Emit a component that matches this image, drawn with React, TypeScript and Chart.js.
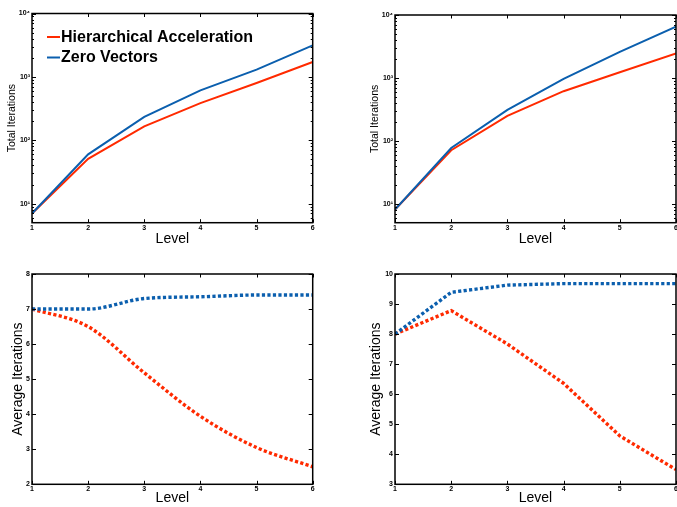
import { useEffect, useRef } from "react";
import { Chart, registerables } from "chart.js";

Chart.register(...registerables);

// ---------- data ----------
const levels = [1, 2, 3, 4, 5, 6];
const seriesLabels = ["Hierarchical Acceleration", "Zero Vectors"];

// top-left: total iterations (log)
const totalHierA = [7, 51, 166, 386, 800, 1720];
const totalZeroA = [7, 60, 233, 612, 1300, 3150];
// top-right: total iterations (log)
const totalHierB = [8.1, 71, 250, 615, 1230, 2450];
const totalZeroB = [8.1, 77, 310, 965, 2600, 6500];
// bottom-left: average iterations
const avgHierA = [7.0, 6.5, 5.18, 3.94, 3.05, 2.5];
const avgZeroA = [7.0, 7.0, 7.3, 7.35, 7.4, 7.4];
// bottom-right: average iterations
const avgHierB = [8.0, 8.78, 7.67, 6.36, 4.61, 3.49];
const avgZeroB = [8.0, 9.39, 9.63, 9.68, 9.68, 9.68];

const logTickValues = [10, 100, 1000, 10000];
const supers: Record<number, string> = { 1: "\u00B9", 2: "\u00B2", 3: "\u00B3", 4: "\u2074" };

const RED = "#ff2a00";
const BLUE = "#0b5fae";
const FONT = "'Liberation Sans', Arial, Helvetica, sans-serif";

// ---------- plugins ----------
const framePlugin = {
  id: "frame",
  afterDatasetsDraw(chart: any, _args: any, opts: any) {
    const { ctx, chartArea: a, scales } = chart;
    const xs = scales.x;
    const ys = scales.y;
    ctx.save();
    ctx.strokeStyle = "#000";
    ctx.lineWidth = 1;
    ctx.beginPath();
    for (const t of xs.ticks) {
      const px = Math.round(xs.getPixelForValue(t.value)) + 0.5;
      ctx.moveTo(px, a.bottom);
      ctx.lineTo(px, a.bottom - 3.5);
      ctx.moveTo(px, a.top);
      ctx.lineTo(px, a.top + 3.5);
    }
    for (const t of ys.ticks) {
      const py = Math.round(ys.getPixelForValue(t.value)) + 0.5;
      ctx.moveTo(a.left, py);
      ctx.lineTo(a.left + 4, py);
      ctx.moveTo(a.right, py);
      ctx.lineTo(a.right - 4, py);
    }
    if (opts && opts.log) {
      for (let d = 1; d <= 1000; d *= 10) {
        for (let m = 2; m <= 9; m++) {
          const v = m * d;
          if (v <= ys.min || v >= ys.max) continue;
          const py = Math.round(ys.getPixelForValue(v)) + 0.5;
          ctx.moveTo(a.left, py);
          ctx.lineTo(a.left + 2, py);
          ctx.moveTo(a.right, py);
          ctx.lineTo(a.right - 2, py);
        }
      }
    }
    ctx.stroke();
    ctx.lineWidth = 1.5;
    ctx.strokeRect(a.left, a.top, a.right - a.left, a.bottom - a.top);
    ctx.restore();
  },
};

const lineLegendPlugin = {
  id: "lineLegend",
  afterDraw(chart: any, _args: any, opts: any) {
    if (!opts || !opts.show) return;
    const { ctx, chartArea: a } = chart;
    const ds = chart.data.datasets;
    ctx.save();
    ctx.font = `bold 16px ${FONT}`;
    ctx.textBaseline = "middle";
    ctx.textAlign = "left";
    ds.forEach((d: any, i: number) => {
      const yLine = a.top + 23.5 + i * 20.5;
      ctx.strokeStyle = d.borderColor;
      ctx.lineWidth = 2;
      ctx.beginPath();
      ctx.moveTo(a.left + 15, yLine);
      ctx.lineTo(a.left + 28, yLine);
      ctx.stroke();
      ctx.fillStyle = "#000";
      ctx.fillText(d.label, a.left + 29, yLine + 0.5);
    });
    ctx.restore();
  },
};

// ---------- panels ----------
type PanelDef = {
  x: number;
  y: number;
  w: number;
  h: number;
  plotLeft: number;
  plotTop: number;
  plotRight: number;
  plotBottom: number;
  log: boolean;
  yMin: number;
  yMax: number;
  yTitle: string;
  yTitleSize: number;
  yTitleCenter: number;
  xTitleCenter: number;
  xTickPad: number;
  hier: number[];
  zero: number[];
  dotted: boolean;
  legend: boolean;
  smooth: "none" | "monotone";
};

const panels: PanelDef[] = [
  {
    x: 0, y: 0, w: 338, h: 254,
    plotLeft: 32, plotTop: 13.5, plotRight: 312.7, plotBottom: 222.7,
    log: true, yMin: 5, yMax: 10000,
    yTitle: "Total Iterations", yTitleSize: 10.5, yTitleCenter: 12, xTitleCenter: 239, xTickPad: 1.5,
    hier: totalHierA, zero: totalZeroA, dotted: false, legend: true, smooth: "none",
  },
  {
    x: 338, y: 0, w: 339, h: 254,
    plotLeft: 57, plotTop: 15, plotRight: 338, plotBottom: 222.7,
    log: true, yMin: 5, yMax: 10000,
    yTitle: "Total Iterations", yTitleSize: 10.5, yTitleCenter: 37, xTitleCenter: 239, xTickPad: 1.5,
    hier: totalHierB, zero: totalZeroB, dotted: false, legend: false, smooth: "none",
  },
  {
    x: 0, y: 254, w: 338, h: 253,
    plotLeft: 32, plotTop: 20, plotRight: 312.7, plotBottom: 230.3,
    log: false, yMin: 2, yMax: 8,
    yTitle: "Average Iterations", yTitleSize: 14, yTitleCenter: 18, xTitleCenter: 245, xTickPad: 1,
    hier: avgHierA, zero: avgZeroA, dotted: true, legend: false, smooth: "monotone",
  },
  {
    x: 338, y: 254, w: 339, h: 253,
    plotLeft: 57, plotTop: 20, plotRight: 338, plotBottom: 230.3,
    log: false, yMin: 3, yMax: 10,
    yTitle: "Average Iterations", yTitleSize: 14, yTitleCenter: 38, xTitleCenter: 245, xTickPad: 1,
    hier: avgHierB, zero: avgZeroB, dotted: true, legend: false, smooth: "none",
  },
];

function buildConfig(p: PanelDef): any {
  const xAxisH = p.h - p.plotBottom;
  const xTitleLH = 14 * 1.2;
  const xTitlePadBottom = Math.max(0, p.h - p.xTitleCenter - xTitleLH / 2);
  const yTitlePadTop = Math.max(0, p.yTitleCenter - (p.yTitleSize * 1.2) / 2);
  const tickFont = { family: FONT, size: 7, weight: "bold" as const };

  const mkDs = (label: string, data: number[], color: string, order: number) => ({
    label,
    data: levels.map((lv, i) => ({ x: lv, y: data[i] })),
    borderColor: color,
    backgroundColor: color,
    borderWidth: p.dotted ? 3.4 : 2,
    borderDash: p.dotted ? [3.2, 2.3] : [],
    borderCapStyle: "butt",
    pointRadius: 0,
    fill: false,
    order,
    tension: 0,
    cubicInterpolationMode: p.smooth === "monotone" ? "monotone" : "default",
  });

  return {
    type: "line",
    data: {
      datasets: [
        mkDs(seriesLabels[0], p.hier, RED, 1),
        mkDs(seriesLabels[1], p.zero, BLUE, 0),
      ],
    },
    options: {
      animation: false,
      responsive: false,
      maintainAspectRatio: false,
      devicePixelRatio: 1,
      layout: {
        padding: { left: 0, top: p.plotTop, right: p.w - p.plotRight, bottom: 0 },
      },
      plugins: {
        legend: { display: false },
        tooltip: { enabled: false },
        frame: { log: p.log },
        lineLegend: { show: p.legend },
      },
      scales: {
        x: {
          type: "linear",
          position: "bottom",
          min: 1,
          max: 6,
          grid: { display: false, drawTicks: false },
          border: { display: false },
          ticks: {
            stepSize: 1,
            autoSkip: false,
            maxRotation: 0,
            padding: p.xTickPad,
            color: "#000",
            font: tickFont,
          },
          title: {
            display: true,
            text: "Level",
            color: "#000",
            font: { family: FONT, size: 14 },
            padding: { top: 0, bottom: xTitlePadBottom },
          },
          afterFit: (s: any) => {
            s.height = xAxisH;
            s.paddingLeft = 0;
            s.paddingRight = 0;
          },
        },
        y: {
          type: p.log ? "logarithmic" : "linear",
          position: "left",
          min: p.yMin,
          max: p.yMax,
          grid: { display: false, drawTicks: false },
          border: { display: false },
          afterBuildTicks: p.log
            ? (s: any) => {
                s.ticks = logTickValues.map((v) => ({ value: v }));
              }
            : undefined,
          ticks: {
            stepSize: p.log ? undefined : 1,
            autoSkip: false,
            padding: 2,
            color: "#000",
            font: tickFont,
            callback: (v: any) => {
              if (p.log) {
                const e = Math.round(Math.log10(Number(v)));
                return "10" + (supers[e] || "");
              }
              return String(v);
            },
          },
          title: {
            display: true,
            text: p.yTitle,
            color: "#000",
            font: { family: FONT, size: p.yTitleSize },
            padding: { top: yTitlePadTop, bottom: 0 },
          },
          afterFit: (s: any) => {
            s.width = p.plotLeft;
            s.paddingTop = 0;
            s.paddingBottom = 0;
          },
        },
      },
    },
    plugins: [framePlugin, lineLegendPlugin],
  };
}

function Panel({ p }: { p: PanelDef }) {
  const ref = useRef<HTMLCanvasElement | null>(null);
  useEffect(() => {
    if (!ref.current) return;
    const chart = new Chart(ref.current, buildConfig(p));
    return () => chart.destroy();
  }, [p]);
  return (
    <canvas
      ref={ref}
      width={p.w}
      height={p.h}
      style={{
        position: "absolute",
        left: p.x,
        top: p.y,
        width: p.w,
        height: p.h,
        display: "block",
      }}
    />
  );
}

export default function App() {
  return (
    <div
      style={{
        position: "absolute",
        left: 0,
        top: 0,
        width: 677,
        height: 507,
        background: "#fff",
        overflow: "hidden",
      }}
    >
      {panels.map((p, i) => (
        <Panel key={i} p={p} />
      ))}
    </div>
  );
}
